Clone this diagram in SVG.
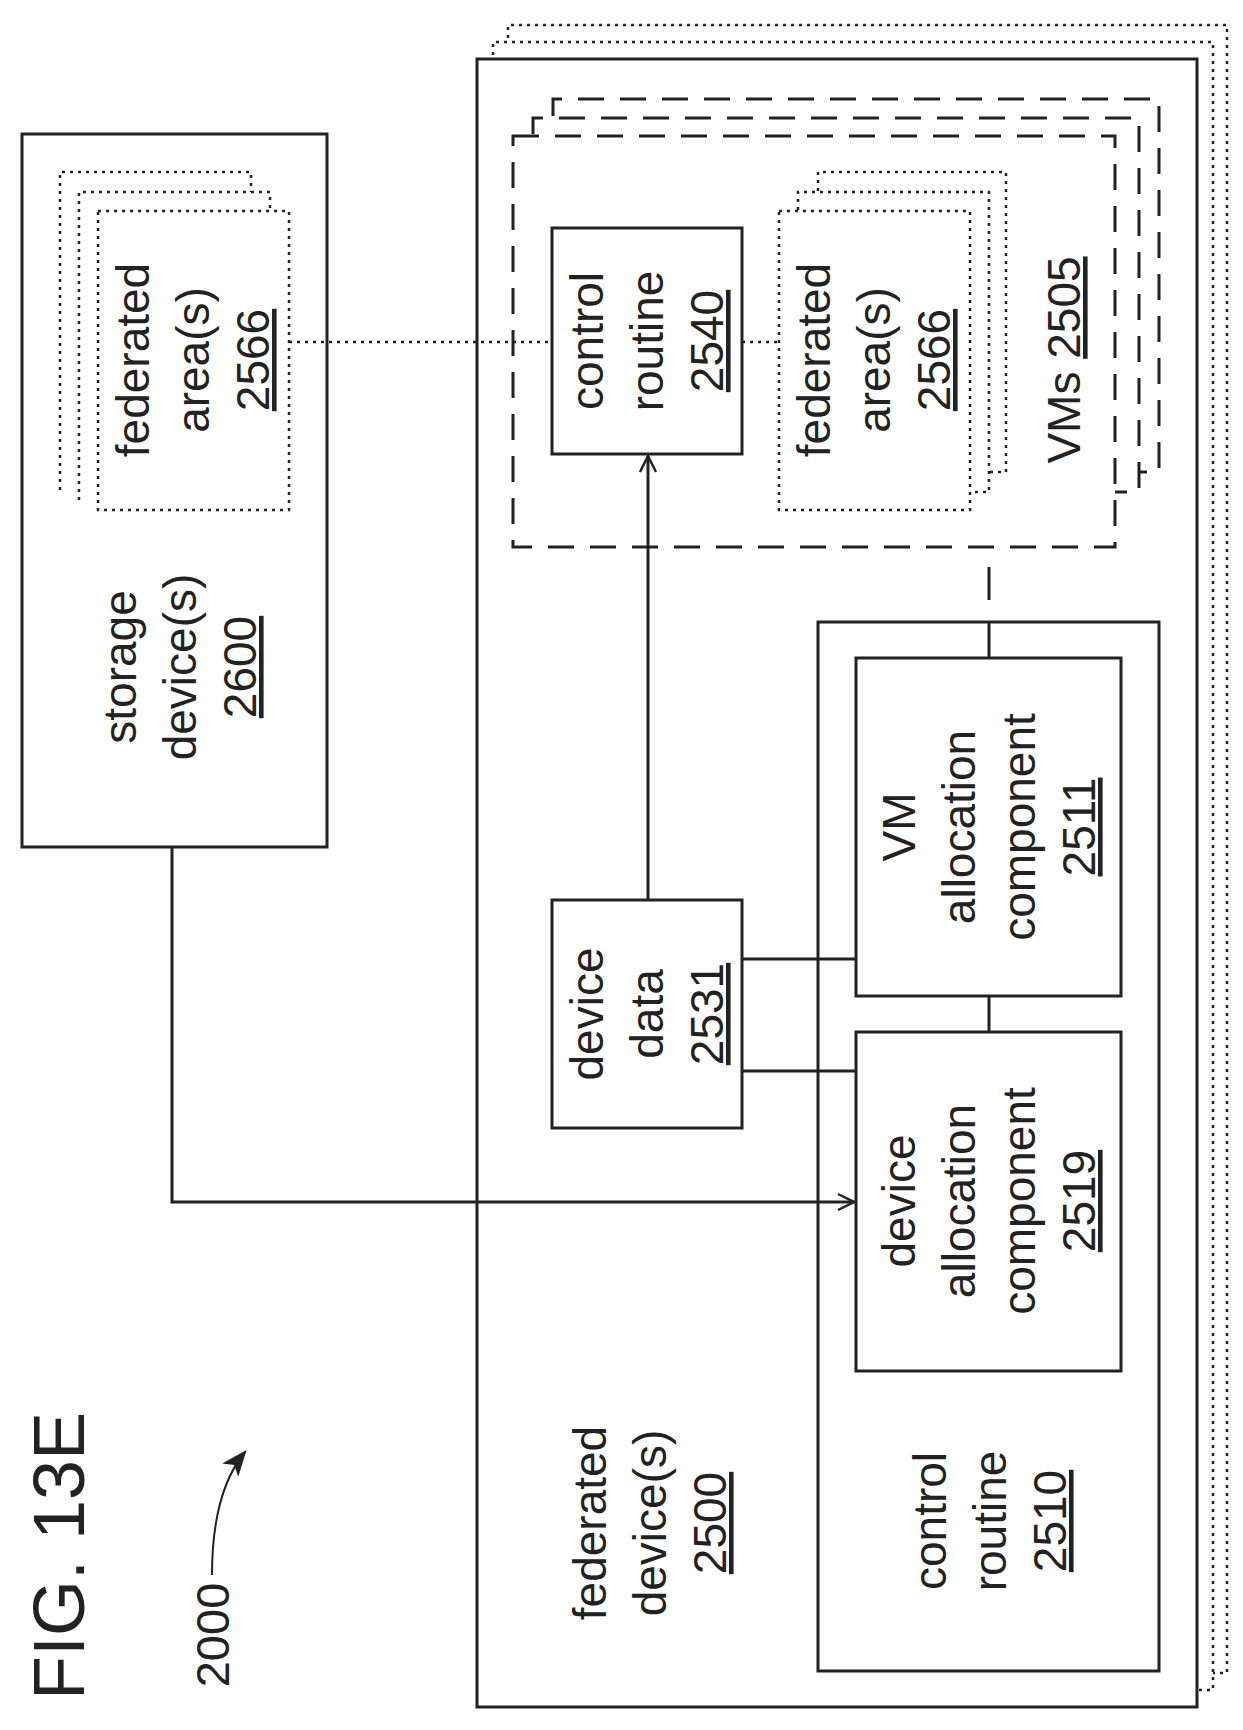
<svg xmlns="http://www.w3.org/2000/svg" width="1243" height="1730" viewBox="0 0 1243 1730">
<style>
.b{fill:none;stroke:#222;stroke-width:3}
.dot{fill:none;stroke:#222;stroke-width:2.5;stroke-dasharray:3 5}
.dash{fill:none;stroke:#222;stroke-width:3;stroke-dasharray:26 16}
.w{fill:#fff;stroke:#222;stroke-width:3}
.ln{fill:none;stroke:#222;stroke-width:3}
text{font-family:"Liberation Sans",Arial,sans-serif;font-size:46px;fill:#222;text-anchor:middle}
.u{text-decoration:underline}
</style>
<defs>
<marker id="oa" viewBox="0 0 20 20" refX="18" refY="10" markerWidth="20" markerHeight="20" markerUnits="userSpaceOnUse" orient="auto"><path d="M2,2 L18,10 L2,18" fill="none" stroke="#222" stroke-width="2.5"/></marker>
<marker id="fa" viewBox="0 0 20 20" refX="18" refY="10" markerWidth="26" markerHeight="26" markerUnits="userSpaceOnUse" orient="auto"><path d="M0,2 L20,10 L0,18 L5,10Z" fill="#222"/></marker>
</defs>
<g id="fig-label"><text transform="translate(84,1556) rotate(-90)" style="font-size:72px">FIG. 13E</text></g>
<g id="ref-2000"><text transform="translate(229,1635) rotate(-90)" style="font-size:47px">2000</text>
<path class="ln" d="M212,1575 C212,1520 222,1480 245,1452" marker-end="url(#fa)" style="stroke-width:2"/></g>

<g id="storage">
<rect class="b" x="22" y="134" width="305" height="713"/>
<path class="dot" d="M60,490 V172 H251 V192"/>
<path class="dot" d="M79,500 V192 H270 V211"/>
<rect class="dot" x="98" y="211" width="191" height="299"/>
<text transform="translate(193,360) rotate(-90)"><tspan x="0" y="-44">federated</tspan><tspan x="0" y="16">area(s)</tspan><tspan x="0" y="76" class="u">2566</tspan></text>
<text transform="translate(180,667) rotate(-90)"><tspan x="0" y="-44">storage</tspan><tspan x="0" y="16">device(s)</tspan><tspan x="0" y="76" class="u">2600</tspan></text>
</g>

<g id="federated-devices">
<path class="dot" d="M508,38 V25 H1227 V1673 H1213"/>
<path class="dot" d="M493,55 V42 H1213 V1690 H1199"/>
<rect class="w" x="477" y="59" width="720" height="1648"/>
<text transform="translate(650,1523) rotate(-90)"><tspan x="0" y="-44">federated</tspan><tspan x="0" y="16">device(s)</tspan><tspan x="0" y="76" class="u">2500</tspan></text>
</g>

<g id="vms">
<path class="dash" d="M553,116 V99 H1159 V472 H1139"/>
<path class="dash" d="M533,134 V118 H1139 V492 H1115"/>
<rect class="dash" x="513" y="136" width="602" height="411"/>
<text transform="translate(1080,360) rotate(-90)" y="0">VMs <tspan class="u">2505</tspan></text>
</g>

<g id="control-2540">
<rect class="b" x="552" y="228" width="190" height="226"/>
<text transform="translate(647,341) rotate(-90)"><tspan x="0" y="-44">control</tspan><tspan x="0" y="16">routine</tspan><tspan x="0" y="76" class="u">2540</tspan></text>
</g>

<g id="fed-area-vm">
<path class="dot" d="M818,191 V172 H1006 V472 H989"/>
<path class="dot" d="M798,210 V192 H989 V492 H970"/>
<rect class="dot" x="779" y="211" width="191" height="299"/>
<text transform="translate(874,360) rotate(-90)"><tspan x="0" y="-44">federated</tspan><tspan x="0" y="16">area(s)</tspan><tspan x="0" y="76" class="u">2566</tspan></text>
</g>

<g id="control-2510">
<rect class="b" x="818" y="622" width="341" height="1049"/>
<text transform="translate(990,1521) rotate(-90)"><tspan x="0" y="-44">control</tspan><tspan x="0" y="16">routine</tspan><tspan x="0" y="76" class="u">2510</tspan></text>
</g>

<g id="vm-alloc-2511">
<rect class="b" x="856" y="658" width="265" height="338"/>
<text transform="translate(989,827) rotate(-90)"><tspan x="0" y="-74">VM</tspan><tspan x="0" y="-14">allocation</tspan><tspan x="0" y="46">component</tspan><tspan x="0" y="106" class="u">2511</tspan></text>
</g>

<g id="dev-alloc-2519">
<rect class="b" x="856" y="1032" width="265" height="339"/>
<text transform="translate(989,1201) rotate(-90)"><tspan x="0" y="-74">device</tspan><tspan x="0" y="-14">allocation</tspan><tspan x="0" y="46">component</tspan><tspan x="0" y="106" class="u">2519</tspan></text>
</g>

<g id="device-data-2531">
<rect class="b" x="552" y="900" width="190" height="228"/>
<text transform="translate(647,1014) rotate(-90)"><tspan x="0" y="-44">device</tspan><tspan x="0" y="16">data</tspan><tspan x="0" y="76" class="u">2531</tspan></text>
</g>

<g id="connectors">
<path class="dot" d="M289,342 H552"/>
<path class="dot" d="M742,342 H779"/>
<path class="ln" d="M648,900 V456" marker-end="url(#oa)"/>
<path class="ln" d="M172,847 V1202 H854" marker-end="url(#oa)"/>
<path class="ln" d="M742,959 H856"/>
<path class="ln" d="M742,1071 H856"/>
<path class="ln" d="M989,996 V1032"/>
<path class="ln" d="M989,622 V658"/>
<path class="ln" d="M989,567 V600"/>
</g>
</svg>
